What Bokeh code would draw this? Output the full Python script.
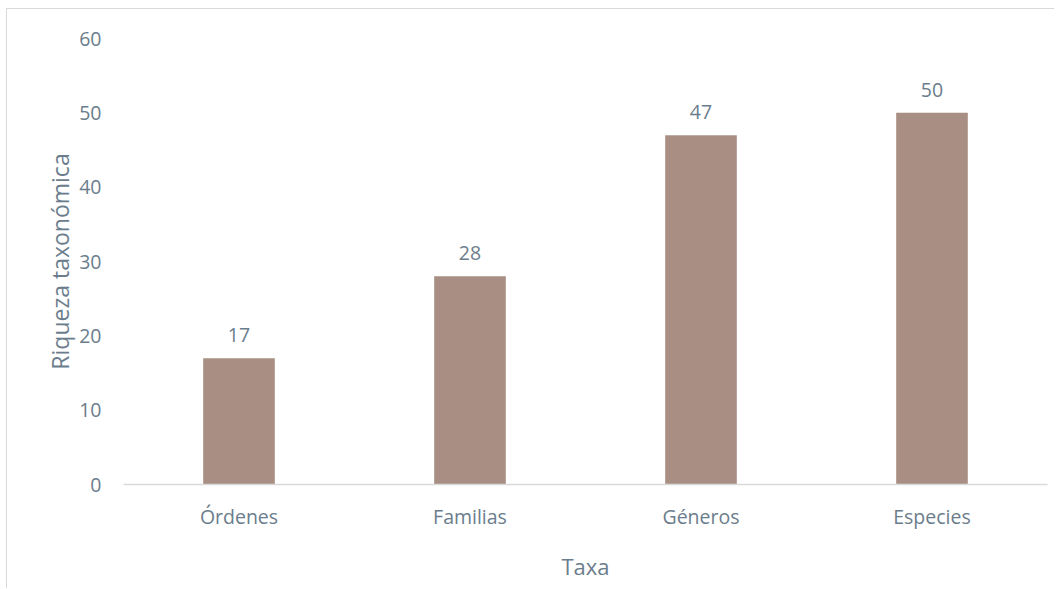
from bokeh.plotting import figure
from bokeh.models import ColumnDataSource, Range1d, FactorRange, LabelSet
from bokeh.core.properties import value
from bokeh.embed import file_html
from bokeh.resources import INLINE

categories = ["Órdenes", "Familias", "Géneros", "Especies"]
values = [17, 28, 47, 50]
labels = ["17", "28", "47", "50"]

FONT = "Open Sans"
TXT = "#6b7d8c"
BAR = "#a98f83"

src = ColumnDataSource(dict(x=categories, top=values, lab=labels))

p = figure(width=1048, height=580, x_range=FactorRange(*categories, range_padding=0),
           y_range=Range1d(0, 60), output_backend="svg", toolbar_location=None,
           min_border_left=116, min_border_right=8, min_border_top=29, min_border_bottom=105)
p.outline_line_color = None
p.styles = {"border-top": "1px solid #d9d9d9", "border-left": "1px solid #d9d9d9",
            "margin-left": "6px", "margin-top": "8px"}

p.vbar(x="x", top="top", width=0.31, source=src, fill_color=BAR, line_color=None)

p.add_layout(LabelSet(x="x", y="top", text="lab", source=src, text_align="center",
                      text_baseline="bottom", y_offset=16, text_font=value(FONT),
                      text_font_size="19.5px", text_color=TXT))

p.xgrid.grid_line_color = None
p.ygrid.grid_line_color = None

p.yaxis.ticker = [0, 10, 20, 30, 40, 50, 60]
p.yaxis.axis_line_color = None
p.yaxis.major_tick_line_color = None
p.yaxis.minor_tick_line_color = None
p.yaxis.major_label_standoff = 16
p.yaxis.axis_label = "Riqueza taxonómica"
p.yaxis.axis_label_standoff = 0

p.xaxis.axis_line_color = "#d9d9d9"
p.xaxis.axis_line_width = 1.5
p.xaxis.major_tick_line_color = None
p.xaxis.minor_tick_line_color = None
p.xaxis.major_label_standoff = 12
p.xaxis.axis_label = "Taxa"
p.xaxis.axis_label_standoff = 18

for ax in (p.xaxis, p.yaxis):
    ax.major_label_text_font = FONT
    ax.major_label_text_font_size = "19.5px"
    ax.major_label_text_color = TXT
    ax.axis_label_text_font = FONT
    ax.axis_label_text_font_style = "normal"
    ax.axis_label_text_color = TXT
p.xaxis.axis_label_text_font_size = "22px"
p.yaxis.axis_label_text_font_size = "23px"

open("out.html", "w").write(file_html(p, INLINE))
